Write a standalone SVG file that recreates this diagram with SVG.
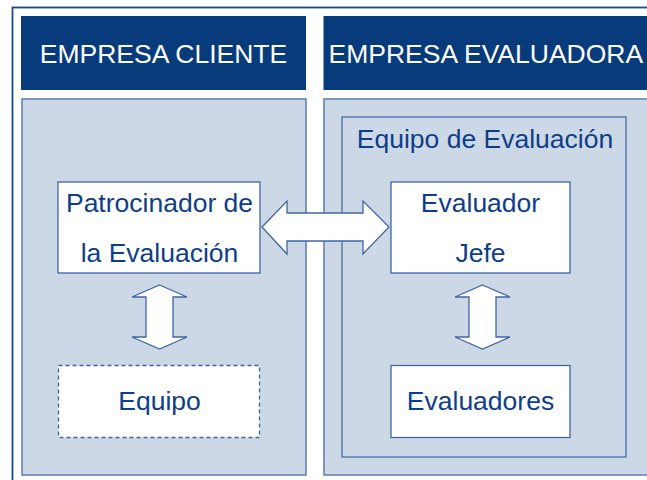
<svg xmlns="http://www.w3.org/2000/svg" width="647" height="480" viewBox="0 0 647 480">
<style>
.hdr{fill:#073b7b;}
.hdrtxt{fill:#ffffff;font-family:"Liberation Sans",Arial,sans-serif;font-size:26.5px;}
.panel{fill:#cdd8e6;stroke:#5a7cb0;stroke-width:1.5;}
.box{fill:#ffffff;stroke:#3f66a3;stroke-width:1.3;}
.dashed{fill:#ffffff;stroke:#3f66a3;stroke-width:1.3;stroke-dasharray:4 3;}
.txt{fill:#0d3e8a;font-family:"Liberation Sans",Arial,sans-serif;font-size:26.5px;text-anchor:middle;}
.arrow{fill:#ffffff;stroke:#3f66a3;stroke-width:1.3;stroke-linejoin:miter;}
</style>
<rect x="0" y="0" width="647" height="480" fill="#ffffff"/>
<rect x="12.5" y="7.5" width="700" height="500" fill="none" stroke="#164a8c" stroke-width="1.8"/>
<g id="cliente">
  <rect class="hdr" x="21" y="16" width="285" height="74"/>
  <text class="hdrtxt" x="163.5" y="63" text-anchor="middle">EMPRESA CLIENTE</text>
  <rect class="panel" x="22" y="99" width="284" height="376"/>
</g>
<g id="evaluadora">
  <rect class="hdr" x="323.5" y="16" width="340" height="74"/>
  <text class="hdrtxt" x="328.5" y="63">EMPRESA EVALUADORA</text>
  <rect class="panel" x="324" y="99" width="340" height="376"/>
</g>
<g id="equipo-evaluacion">
  <rect x="342" y="117" width="284" height="340" fill="none" stroke="#5a7cb0" stroke-width="1.5"/>
  <text class="txt" x="485" y="148">Equipo de Evaluación</text>
</g>
<g id="patrocinador">
  <rect class="box" x="58" y="182" width="202" height="91"/>
  <text class="txt" x="159.5" y="212">Patrocinador de</text>
  <text class="txt" x="159.5" y="262">la Evaluación</text>
</g>
<g id="equipo">
  <rect class="dashed" x="58.5" y="365.5" width="201" height="72"/>
  <text class="txt" x="159.5" y="410">Equipo</text>
</g>
<g id="evaluador-jefe">
  <rect class="box" x="391" y="182" width="179" height="91"/>
  <text class="txt" x="480.5" y="212">Evaluador</text>
  <text class="txt" x="480.5" y="262">Jefe</text>
</g>
<g id="evaluadores">
  <rect class="box" x="391" y="365.5" width="179" height="72"/>
  <text class="txt" x="480.5" y="410">Evaluadores</text>
</g>
<g id="connectors">
  <polygon class="arrow" points="262,227 287,201 287,213 363,213 363,201 389,227 363,254 363,241 287,241 287,254"/>
  <polygon class="arrow" points="159.5,285 187,297 173,297 173,337 187,337 159.5,349 132,337 146,337 146,297 132,297"/>
  <polygon class="arrow" points="482.5,285 510,297 496,297 496,337 510,337 482.5,349 455,337 469,337 469,297 455,297"/>
</g>
</svg>
